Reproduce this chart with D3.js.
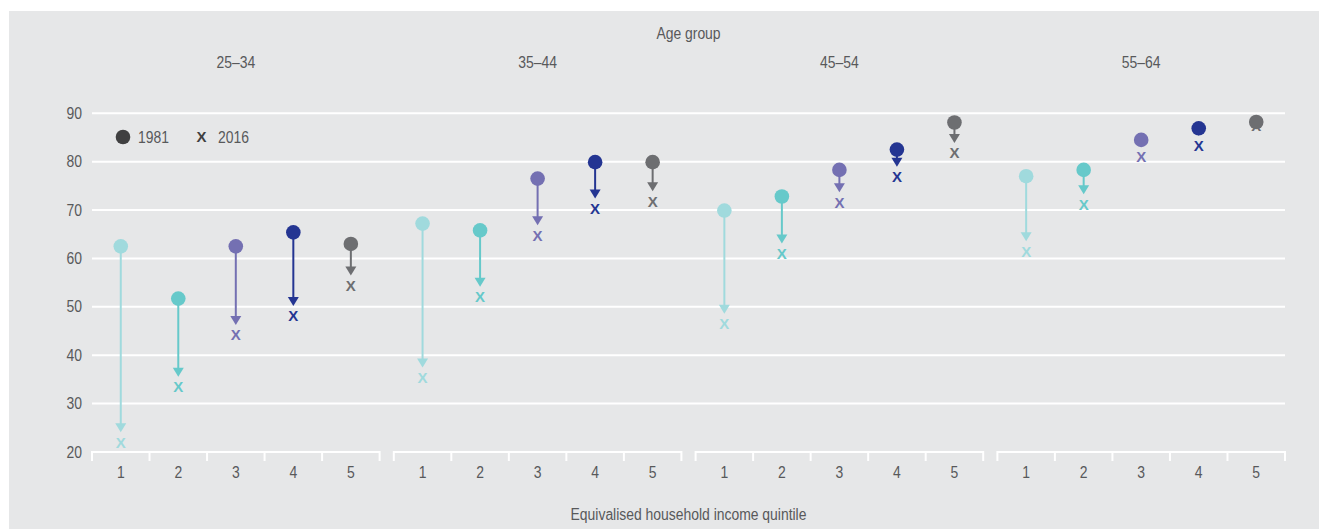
<!DOCTYPE html>
<html>
<head>
<meta charset="utf-8">
<script src="https://cdn.jsdelivr.net/npm/d3@7"></script>
<style>
  html, body { margin: 0; padding: 0; background: #ffffff; }
  svg { display: block; }
  text { font-family: "Liberation Sans", Arial, sans-serif; fill: #58595b; }
</style>
</head>
<body>
<svg id="chart" width="1319" height="529"></svg>
<script>
// Age groups and income quintiles
const ageGroups = ["25–34", "35–44", "45–54", "55–64"];
const quintiles = ["1", "2", "3", "4", "5"];
const yTicks = [20, 30, 40, 50, 60, 70, 80, 90];

// Values per age group, one entry per quintile (1 = lowest income)
const values1981 = [
  [62.5, 51.7, 62.5, 65.4, 63.0],
  [67.2, 65.8, 76.5, 79.9, 79.9],
  [69.9, 72.8, 78.3, 82.5, 88.1],
  [77.0, 78.3, 84.5, 86.9, 88.2]
];
const values2016 = [
  [22.0, 33.5, 44.2, 48.1, 54.4],
  [35.4, 52.1, 64.8, 70.3, 71.8],
  [46.5, 61.0, 71.6, 76.9, 81.8],
  [61.5, 71.2, 81.0, 83.3, 87.4]
];
const quintileColors = ["#a0dadd", "#66c9ca", "#7470b2", "#243592", "#6d6e71"];

const W = 1319, H = 529;
const NARROW = "scale(0.87,1)";   // condensed look for the label font
const svg = d3.select("#chart");

// Panel background
svg.append("rect").attr("x", 9).attr("y", 11).attr("width", W - 9).attr("height", H - 11)
  .attr("fill", "#e6e7e8");

const left = 92, right = 1285;
const y = d3.scaleLinear().domain([20, 90]).range([452, 113.3]);
const xGroup = d3.scaleBand().domain(ageGroups).range([left, right]).paddingInner(0.047);
const xQ = d3.scaleBand().domain(quintiles).range([0, xGroup.bandwidth()]);

function label(parent, x, yPos, str, anchor) {
  return parent.append("text")
    .attr("transform", `translate(${x},${yPos}) ${NARROW}`)
    .attr("dy", "0.35em").attr("text-anchor", anchor || "middle")
    .attr("font-size", 16).text(str);
}

// Horizontal gridlines
const grid = svg.append("g");
grid.selectAll("line").data(yTicks.filter(t => t > 20)).join("line")
  .attr("x1", left).attr("x2", right)
  .attr("y1", d => y(d)).attr("y2", d => y(d))
  .attr("stroke", "#ffffff").attr("stroke-width", 2);

// Y axis labels
const yAxis = svg.append("g").attr("transform", `translate(${left - 10},0)`)
  .call(d3.axisLeft(y).tickValues(yTicks).tickSize(0).tickPadding(0));
yAxis.select(".domain").remove();
yAxis.selectAll("text").attr("font-size", 16).attr("fill", "#58595b")
  .attr("transform", NARROW).style("font-family", null);

// Bracketed x axis per age group
ageGroups.forEach(g => {
  const gx = svg.append("g").attr("transform", `translate(${xGroup(g)},452)`);
  gx.call(d3.axisBottom(xQ).tickSize(0).tickPadding(15));
  gx.select(".domain").remove();
  gx.selectAll("text").attr("font-size", 16).attr("fill", "#58595b")
    .attr("transform", NARROW).style("font-family", null);
  gx.append("line").attr("x1", 0).attr("x2", xGroup.bandwidth())
    .attr("y1", 0).attr("y2", 0).attr("stroke", "#fff").attr("stroke-width", 2);
  const bounds = quintiles.map(q => xQ(q)).concat([xGroup.bandwidth()]);
  gx.selectAll("line.tk").data(bounds).join("line").attr("class", "tk")
    .attr("x1", d => d).attr("x2", d => d).attr("y1", -1).attr("y2", 9)
    .attr("stroke", "#fff").attr("stroke-width", 2);
});

// Titles
label(svg, (left + right) / 2, 33, "Age group");
ageGroups.forEach(g => label(svg, xGroup(g) + xGroup.bandwidth() / 2, 62, g));
label(svg, (left + right) / 2, 514, "Equivalised household income quintile");

// Points
const points = [];
ageGroups.forEach((g, gi) => quintiles.forEach((q, qi) => {
  points.push({
    cx: xGroup(g) + xQ(q) + xQ.bandwidth() / 2,
    v1: values1981[gi][qi], v2: values2016[gi][qi], color: quintileColors[qi]
  });
}));

const marks = svg.append("g");
const headH = 9, headW = 11, gapToX = 10;
points.forEach(p => {
  const y1 = y(p.v1), tip = y(p.v2) - gapToX;
  if (tip > y1) {
    marks.append("line").attr("x1", p.cx).attr("x2", p.cx)
      .attr("y1", y1).attr("y2", tip - headH + 1)
      .attr("stroke", p.color).attr("stroke-width", 2);
    marks.append("path")
      .attr("d", `M${p.cx - headW / 2},${tip - headH}L${p.cx + headW / 2},${tip - headH}L${p.cx},${tip}Z`)
      .attr("fill", p.color);
  }
});
marks.selectAll("text.x16").data(points).join("text").attr("class", "x16")
  .attr("x", d => d.cx).attr("y", d => y(d.v2)).attr("dy", "0.36em")
  .attr("text-anchor", "middle").attr("font-size", 15).attr("font-weight", "bold")
  .style("fill", d => d.color).text("X");
marks.selectAll("circle").data(points).join("circle")
  .attr("cx", d => d.cx).attr("cy", d => y(d.v1)).attr("r", 7.3)
  .attr("fill", d => d.color);

// Legend
const lg = svg.append("g");
lg.append("circle").attr("cx", 123).attr("cy", 137).attr("r", 7.3).attr("fill", "#404041");
label(lg, 138, 137, "1981", "start");
lg.append("text").attr("x", 201.5).attr("y", 137).attr("dy", "0.36em").attr("text-anchor", "middle")
  .attr("font-size", 15).attr("font-weight", "bold")
  .style("fill", "#404041").text("X");
label(lg, 218, 137, "2016", "start");
</script>
</body>
</html>
